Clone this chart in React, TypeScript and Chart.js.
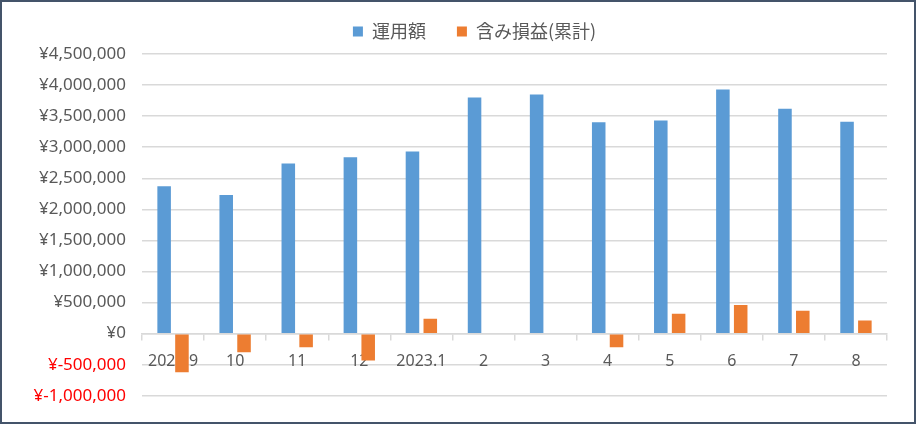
import React, { useEffect, useRef } from "react";
import { Chart, registerables } from "chart.js";

Chart.register(...registerables);

const categories = ["2022.9", "10", "11", "12", "2023.1", "2", "3", "4", "5", "6", "7", "8"];
const seriesNames = ["運用額", "含み損益(累計)"];
const investedAmount = [2370000, 2230000, 2740000, 2840000, 2930000, 3800000, 3850000, 3400000, 3430000, 3930000, 3620000, 3410000];
const unrealizedGain = [-620000, -300000, -220000, -430000, 240000, 0, 0, -220000, 320000, 460000, 370000, 210000];
const yMin = -1000000;
const yMax = 4500000;
const yStep = 500000;

const fmtYen = (v: number) =>
  v < 0 ? "¥-" + Math.abs(v).toLocaleString("en-US") : "¥" + v.toLocaleString("en-US");

export default function App() {
  const ref = useRef<HTMLCanvasElement | null>(null);

  useEffect(() => {
    document.body.style.margin = "0";
    if (!ref.current) return;
    const legendShift = {
      id: "legendShift",
      afterLayout(chart: any) {
        const lg = chart.legend;
        if (lg) {
          lg.left += 30;
          lg.right += 30;
          lg.top -= 3.5;
          lg.bottom -= 3.5;
        }
      },
    };
    const chart = new Chart(ref.current, {
      type: "bar",
      data: {
        labels: categories,
        datasets: [
          {
            label: seriesNames[0],
            data: investedAmount,
            backgroundColor: "#5b9bd5",
            categoryPercentage: 0.574,
            barPercentage: 0.76,
          },
          {
            label: seriesNames[1],
            data: unrealizedGain,
            backgroundColor: "#ed7d31",
            categoryPercentage: 0.574,
            barPercentage: 0.76,
          },
        ],
      },
      options: {
        animation: false,
        responsive: false,
        maintainAspectRatio: false,
        layout: { padding: { left: 0, right: 27, top: -7, bottom: 24.3 } },
        plugins: {
          legend: {
            position: "top",
            labels: {
              boxWidth: 10,
              boxHeight: 10,
              padding: 31,
              color: "#595959",
              font: { family: "'Noto Sans CJK JP', 'Noto Sans', sans-serif", size: 18 },
            },
          },
          tooltip: { enabled: false },
        },
        scales: {
          x: {
            position: { y: 0 } as any,
            grid: {
              display: true,
              drawOnChartArea: false,
              drawTicks: true,
              tickLength: 6,
              color: "#d9d9d9",
              lineWidth: 1.5,
            },
            border: { display: true, color: "#d9d9d9", width: 1.5 },
            ticks: {
              color: "#595959",
              padding: 12,
              font: { family: "'Noto Sans', sans-serif", size: 16 },
              maxRotation: 0,
              autoSkip: false,
            },
          },
          y: {
            min: yMin,
            max: yMax,
            afterFit(scale: any) {
              scale.width = 140;
            },
            grid: { color: "#d9d9d9", lineWidth: 1.5, drawTicks: false },
            border: { display: false },
            ticks: {
              stepSize: yStep,
              padding: 16,
              font: { family: "'Noto Sans', sans-serif", size: 17 },
              color: (ctx: any) => (ctx.tick && ctx.tick.value < 0 ? "#ff0000" : "#595959"),
              callback: (v: any) => fmtYen(Number(v)),
            },
          },
        },
      },
      plugins: [legendShift],
    });
    return () => chart.destroy();
  }, []);

  return (
    <div
      style={{
        position: "absolute",
        left: 0,
        top: 0,
        width: 916,
        height: 424,
        boxSizing: "border-box",
        border: "2px solid #44546a",
        background: "#ffffff",
      }}
    >
      <canvas ref={ref} width={912} height={420} style={{ display: "block", width: 912, height: 420 }} />
    </div>
  );
}
